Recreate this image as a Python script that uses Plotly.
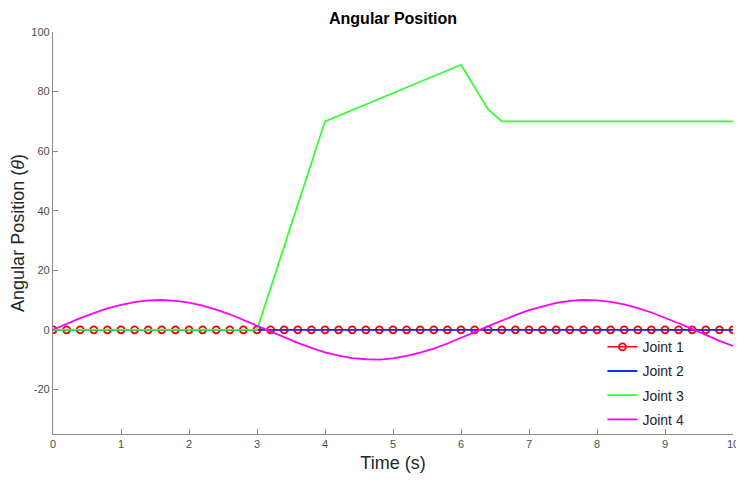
import plotly.graph_objects as go

# ---- data ----
time = [0.0, 0.2, 0.4, 0.6, 0.8, 1.0, 1.2, 1.4, 1.6, 1.8,
        2.0, 2.2, 2.4, 2.6, 2.8, 3.0, 3.2, 3.4, 3.6, 3.8,
        4.0, 4.2, 4.4, 4.6, 4.8, 5.0, 5.2, 5.4, 5.6, 5.8,
        6.0, 6.2, 6.4, 6.6, 6.8, 7.0, 7.2, 7.4, 7.6, 7.8,
        8.0, 8.2, 8.4, 8.6, 8.8, 9.0, 9.2, 9.4, 9.6, 9.8, 10.0]
joint1 = [0, 0, 0, 0, 0, 0, 0, 0, 0, 0,
          0, 0, 0, 0, 0, 0, 0, 0, 0, 0,
          0, 0, 0, 0, 0, 0, 0, 0, 0, 0,
          0, 0, 0, 0, 0, 0, 0, 0, 0, 0,
          0, 0, 0, 0, 0, 0, 0, 0, 0, 0, 0]
joint2_time = [0.0, 10.0]
joint2 = [0, 0]
joint3_time = [0.0, 3.0, 4.0, 6.0, 6.4, 6.6, 10.0]
joint3 = [0, 0, 70, 89, 74, 70, 70]
joint4 = [0.0, 2.0, 3.9, 5.6, 7.2, 8.4, 9.3, 9.9, 10.0, 9.7,
          9.1, 8.1, 6.8, 5.2, 3.3, 1.4, -0.6, -2.6, -4.4, -6.1,
          -7.6, -8.7, -9.5, -9.9, -10.0, -9.6, -8.8, -7.7, -6.3, -4.6,
          -2.8, -0.8, 1.2, 3.1, 4.9, 6.6, 7.9, 9.0, 9.7, 10.0,
          9.9, 9.4, 8.5, 7.3, 5.8, 4.1, 2.2, 0.3, -1.7, -3.7, -5.4]
x_ticks = [0, 1, 2, 3, 4, 5, 6, 7, 8, 9, 10]
y_ticks = [-20, 0, 20, 40, 60, 80, 100]
y_tick_labels = ["-20", "0", "20", "40", "60", "80", "100"]

FONT = "Liberation Sans, Arial, sans-serif"
AX = "#8a8a8a"
OFF = 8  # page body margin
W, H = 744 - OFF, 481 - 2 * OFF

fig = go.Figure()
fig.add_trace(go.Scatter(x=time, y=joint1, name="Joint 1", mode="lines+markers",
                         legendgroup="j1",
                         line=dict(color="#ff0000", width=1.6),
                         marker=dict(symbol="circle-open", size=7, color="#ff0000",
                                     line=dict(width=1.8, color="#ff0000"))))
fig.add_trace(go.Scatter(x=joint2_time, y=joint2, name="Joint 2", mode="lines",
                         legendgroup="j2",
                         line=dict(color="#0033ff", width=1.8)))
fig.add_trace(go.Scatter(x=joint3_time, y=joint3, name="Joint 3", mode="lines",
                         legendgroup="j3",
                         line=dict(color="#33ff33", width=1.8)))
fig.add_trace(go.Scatter(x=time, y=joint4, name="Joint 4", mode="lines",
                         legendgroup="j4",
                         line=dict(color="#ff00ff", width=1.8)))

fig.update_layout(
    width=W, height=H,
    margin=dict(l=53 - OFF, r=W + OFF - 733, t=32 - OFF, b=H + OFF - 434, autoexpand=False),
    paper_bgcolor="white", plot_bgcolor="white",
    font=dict(family=FONT, color="#262626"),
    title=dict(text="<b>Angular Position</b>", x=(393 - OFF) / W, xanchor="center",
               y=1 - (18 - OFF) / H, yanchor="middle", font=dict(size=16, color="#000000")),
    xaxis=dict(range=[0, 10], tickvals=x_ticks, showgrid=False, zeroline=False,
               automargin=False,
               showline=True, linecolor=AX, linewidth=1.3, ticks="inside", ticklen=5,
               tickcolor=AX, tickfont=dict(size=11, color="#4d4d4d"),
               title=dict(text="Time (s)", font=dict(size=18, color="#262626"), standoff=11)),
    yaxis=dict(range=[-35, 100], tickvals=y_ticks, ticktext=y_tick_labels,
               showgrid=False, zeroline=False, automargin=False,
               showline=True, linecolor=AX, linewidth=1.3, ticks="inside", ticklen=5,
               tickcolor=AX, tickfont=dict(size=11, color="#4d4d4d"),
               title=dict(text="Angular Position (<i>θ</i>)", font=dict(size=18, color="#262626"),
                          standoff=8)),
    legend=dict(x=0.808, y=-0.003, xanchor="left", yanchor="bottom", itemwidth=30,
                bgcolor="rgba(0,0,0,0)", borderwidth=0,
                font=dict(size=14, color="#262626"), tracegroupgap=3),
    showlegend=True,
)

fig.write_html("out.html")
